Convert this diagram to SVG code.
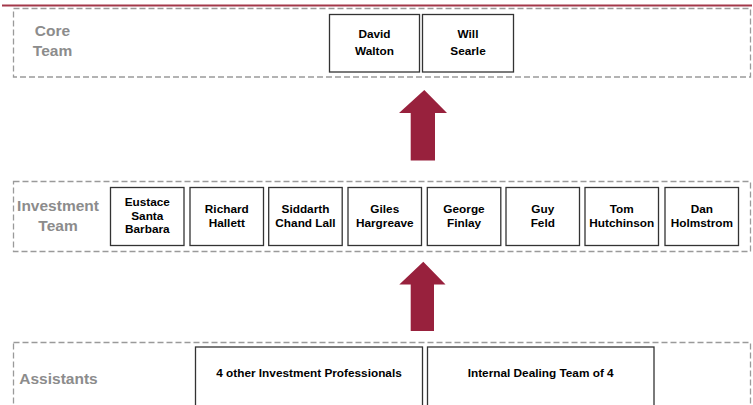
<svg xmlns="http://www.w3.org/2000/svg" width="753" height="405" viewBox="0 0 753 405">
<style>
.grp{fill:none;stroke:#9a9a9a;stroke-width:1.3;stroke-dasharray:6 3}
.lbl{font-family:"Liberation Sans",Arial,sans-serif;font-weight:bold;font-size:15.5px;fill:#8c8c8c;text-anchor:middle}
.box{fill:#fff;stroke:#333;stroke-width:1.3}
.t{font-family:"Liberation Sans",Arial,sans-serif;font-weight:bold;font-size:11.8px;fill:#000;text-anchor:middle}
.arr{fill:#98213d}
</style>
<rect width="753" height="405" fill="#fff"/>
<line x1="2" y1="5.5" x2="752" y2="5.5" stroke="#a3384a" stroke-width="2"/>
<g id="group-core">
<rect class="grp" x="13.5" y="8.5" width="737" height="68.5"/>
<text class="lbl" x="52.5" y="36">Core</text>
<text class="lbl" x="52.5" y="56">Team</text>
</g>
<g id="group-investment">
<rect class="grp" x="13.5" y="181.5" width="737" height="70"/>
<text class="lbl" x="58" y="211">Investment</text>
<text class="lbl" x="58" y="230.5">Team</text>
</g>
<g id="group-assistants">
<rect class="grp" x="13.5" y="342.5" width="737" height="90"/>
<text class="lbl" x="58.5" y="383.5">Assistants</text>
</g>
<g id="node-david-walton">
<rect class="box" x="329.5" y="14.5" width="90" height="57.5"/>
<text class="t" x="374.5" y="37.5">David</text>
<text class="t" x="374.5" y="54.5">Walton</text>
</g>
<g id="node-will-searle">
<rect class="box" x="422.5" y="14.5" width="91" height="57.5"/>
<text class="t" x="468" y="37.5">Will</text>
<text class="t" x="468" y="54.5">Searle</text>
</g>
<g id="node-eustace">
<rect class="box" x="110.5" y="187.5" width="73.5" height="58"/>
<text class="t" x="147.3" y="206">Eustace</text>
<text class="t" x="147.3" y="219.5">Santa</text>
<text class="t" x="147.3" y="233">Barbara</text>
</g>
<g id="node-richard">
<rect class="box" x="190" y="187.5" width="73.5" height="58"/>
<text class="t" x="226.8" y="212.7">Richard</text>
<text class="t" x="226.8" y="227">Hallett</text>
</g>
<g id="node-siddarth">
<rect class="box" x="268.7" y="187.5" width="73.5" height="58"/>
<text class="t" x="305.5" y="212.7">Siddarth</text>
<text class="t" x="305.5" y="227">Chand Lall</text>
</g>
<g id="node-giles">
<rect class="box" x="348" y="187.5" width="73.5" height="58"/>
<text class="t" x="384.8" y="212.7">Giles</text>
<text class="t" x="384.8" y="227">Hargreave</text>
</g>
<g id="node-george">
<rect class="box" x="427.3" y="187.5" width="73.5" height="58"/>
<text class="t" x="464" y="212.7">George</text>
<text class="t" x="464" y="227">Finlay</text>
</g>
<g id="node-guy">
<rect class="box" x="506" y="187.5" width="73.5" height="58"/>
<text class="t" x="542.8" y="212.7">Guy</text>
<text class="t" x="542.8" y="227">Feld</text>
</g>
<g id="node-tom">
<rect class="box" x="585" y="187.5" width="73.5" height="58"/>
<text class="t" x="621.8" y="212.7">Tom</text>
<text class="t" x="621.8" y="227">Hutchinson</text>
</g>
<g id="node-dan">
<rect class="box" x="665" y="187.5" width="73.5" height="58"/>
<text class="t" x="701.8" y="212.7">Dan</text>
<text class="t" x="701.8" y="227">Holmstrom</text>
</g>
<g id="node-other-professionals">
<rect class="box" x="195.5" y="347" width="227" height="90"/>
<text class="t" x="309" y="377">4 other Investment Professionals</text>
</g>
<g id="node-dealing-team">
<rect class="box" x="427.5" y="347" width="226.5" height="90"/>
<text class="t" x="540.7" y="377">Internal Dealing Team of 4</text>
</g>
<g id="connectors">
<polygon class="arr" points="424.3,90 447,113 435,113 435,160.5 410.7,160.5 410.7,113 399,113"/>
<polygon class="arr" points="423.3,261.7 445.5,284.5 434,284.5 434,331 410.7,331 410.7,284.5 399.3,284.5"/>
</g>
</svg>
